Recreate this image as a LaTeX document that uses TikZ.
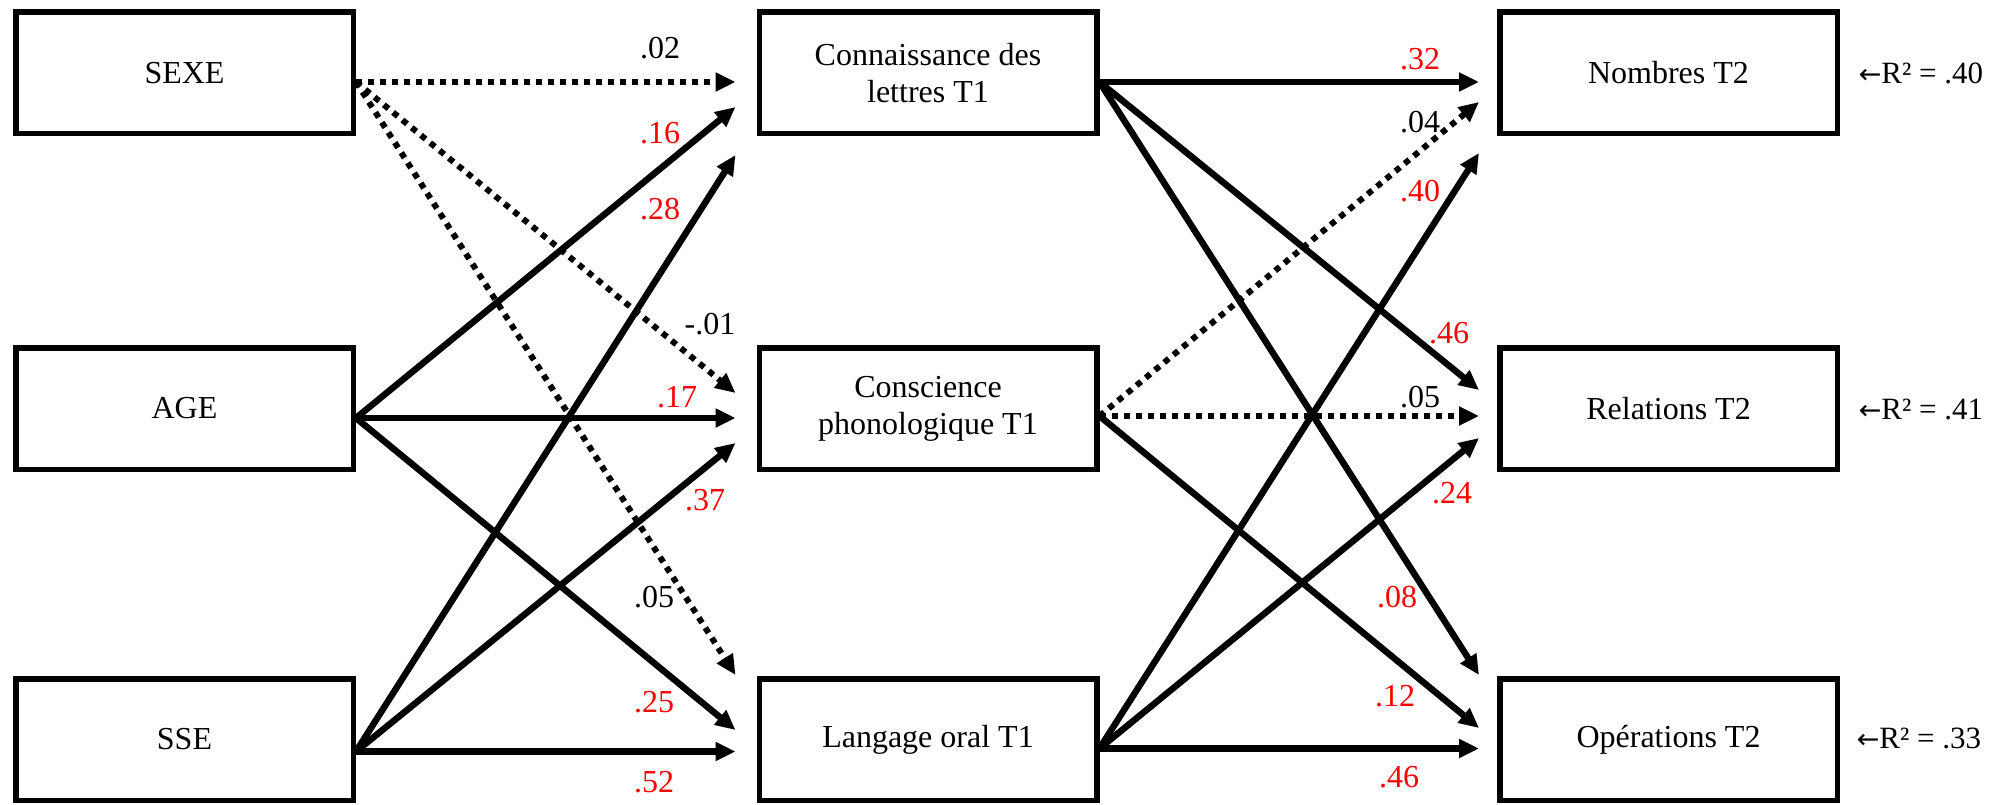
\documentclass[tikz,border=0pt]{standalone}
\usepackage{fontspec}
\setmainfont{Liberation Serif}
\newfontfamily\arrowfont{DejaVu Sans}
\usetikzlibrary{arrows.meta}
\newcommand{\larr}{{\arrowfont\fontsize{27}{27}\selectfont ←}}
\begin{document}
\begin{tikzpicture}[x=1pt,y=-1pt,
  box/.style={draw,line width=5.5pt,minimum width=337.5pt,minimum height=121.5pt,inner sep=0pt,align=center,font=\fontsize{32}{37}\selectfont},
  link/.style={line width=6.5pt,-{Triangle[length=20pt,width=18pt]}},
  dotlink/.style={line width=6pt,dash pattern=on 6pt off 6pt,-{Triangle[length=20pt,width=18pt]}},
  coef/.style={inner sep=0pt,font=\fontsize{32}{37}\selectfont},
  sig/.style={coef,text=red},
  rsq/.style={inner sep=0pt,font=\fontsize{31}{35}\selectfont}]
\useasboundingbox (0,0) rectangle (2006,805);
% boxes
\node[box] (sexe) at (184.5,73) {SEXE};
\node[box] (age) at (184.5,408.5) {AGE};
\node[box] (sse) at (184.5,739.5) {SSE};
\node[box] (cl) at (928,73) {Connaissance des\\lettres T1};
\node[box] (cp) at (928,408.5) {Conscience\\phonologique T1};
\node[box] (lo) at (928,739.5) {Langage oral T1};
\node[box] (nb) at (1668.5,73) {Nombres T2};
\node[box] (rel) at (1668.5,408.5) {Relations T2};
\node[box] (op) at (1668.5,739.5) {Opérations T2};
% left paths
\draw[dotlink] ([yshift=-9pt]sexe.east) -- ([xshift=-21pt,yshift=-9pt]cl.west);
\draw[dotlink] ([yshift=-9pt]sexe.east) -- ([xshift=-21pt,yshift=15.5pt]cp.west);
\draw[dotlink] ([yshift=-9pt]sexe.east) -- ([xshift=-21pt,yshift=64.5pt]lo.west);
\draw[link] ([yshift=-9.5pt]age.east) -- ([xshift=-21pt,yshift=-34pt]cl.west);
\draw[link] ([yshift=-9.5pt]age.east) -- ([xshift=-21pt,yshift=-9.5pt]cp.west);
\draw[link] ([yshift=-9.5pt]age.east) -- ([xshift=-21pt,yshift=9.5pt]lo.west);
\draw[link] ([yshift=-12pt]sse.east) -- ([xshift=-21pt,yshift=-82pt]cl.west);
\draw[link] ([yshift=-12pt]sse.east) -- ([xshift=-21pt,yshift=-34.5pt]cp.west);
\draw[link] ([yshift=-12pt]sse.east) -- ([xshift=-21pt,yshift=-12pt]lo.west);
% right paths
\draw[link] ([yshift=-9pt]cl.east) -- ([xshift=-18pt,yshift=-9pt]nb.west);
\draw[link] ([yshift=-9pt]cl.east) -- ([xshift=-18pt,yshift=18.5pt]rel.west);
\draw[link] ([yshift=-9pt]cl.east) -- ([xshift=-18pt,yshift=64.5pt]op.west);
\draw[dotlink] ([yshift=-7.5pt]cp.east) -- ([xshift=-18pt,yshift=-29pt]nb.west);
\draw[dotlink] ([yshift=-7.5pt]cp.east) -- ([xshift=-18pt,yshift=-7.5pt]rel.west);
\draw[link] ([yshift=-7.5pt]cp.east) -- ([xshift=-18pt,yshift=11.5pt]op.west);
\draw[link] ([yshift=-9pt]lo.east) -- ([xshift=-18pt,yshift=-80pt]nb.west);
\draw[link] ([yshift=-9pt]lo.east) -- ([xshift=-18pt,yshift=-29.5pt]rel.west);
\draw[link] ([yshift=-9pt]lo.east) -- ([xshift=-18pt,yshift=-9pt]op.west);
% left coefficients
\node[coef] (c1) at (660,48) {.02};
\node[sig] (c2) at (660,133) {.16};
\node[sig] (c3) at (660,209) {.28};
\node[coef] (c4) at (710,324) {-.01};
\node[sig] (c5) at (677,397) {.17};
\node[sig] (c6) at (705,500) {.37};
\node[coef] (c7) at (654,597) {.05};
\node[sig] (c8) at (654,702) {.25};
\node[sig] (c9) at (654,782) {.52};
% right coefficients
\node[sig] (d1) at (1420,59) {.32};
\node[coef] (d2) at (1420,122) {.04};
\node[sig] (d3) at (1420,191) {.40};
\node[sig] (d4) at (1449,333) {.46};
\node[coef] (d5) at (1420,397) {.05};
\node[sig] (d6) at (1452,493) {.24};
\node[sig] (d7) at (1397,597) {.08};
\node[sig] (d8) at (1395,696) {.12};
\node[sig] (d9) at (1399,777) {.46};
% R squared
\node[rsq] (r1) at (1921,73) {\larr R² = .40};
\node[rsq] (r2) at (1921,409) {\larr R² = .41};
\node[rsq] (r3) at (1919,738) {\larr R² = .33};
\end{tikzpicture}
\end{document}
